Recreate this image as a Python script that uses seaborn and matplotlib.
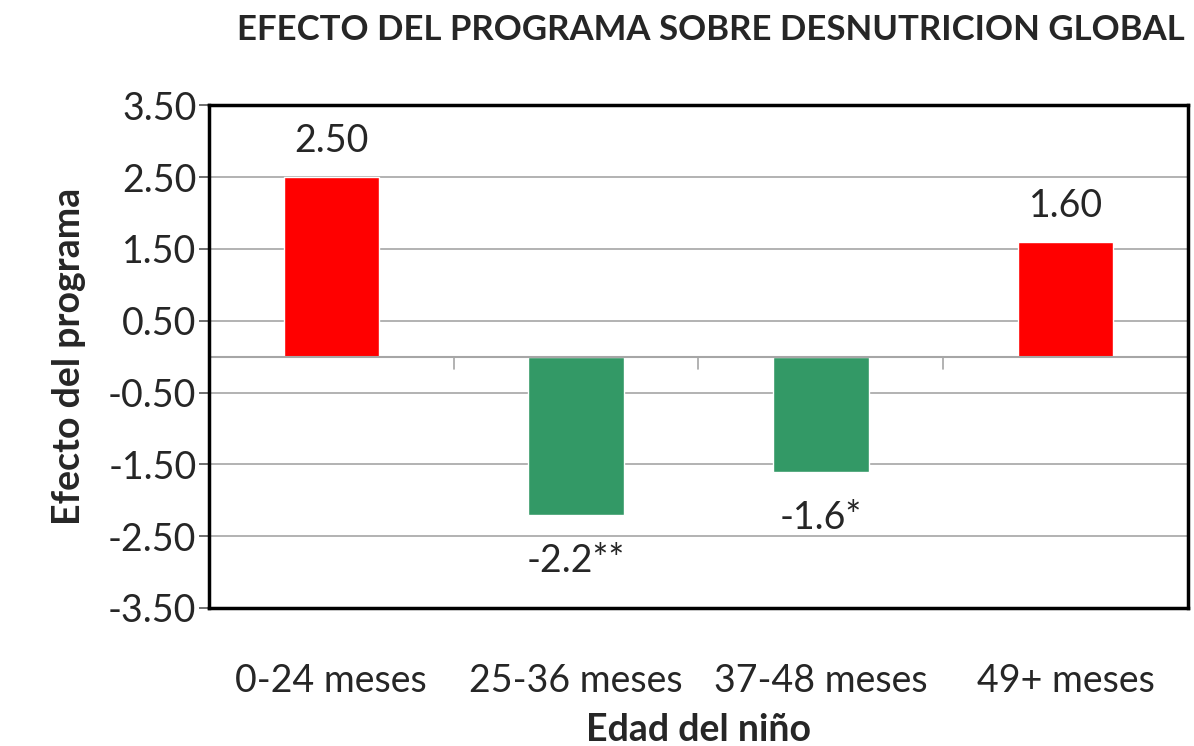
import numpy as np
import pandas as pd
import seaborn as sns
import matplotlib.pyplot as plt

# datos del grafico
categorias = ['0-24 meses', '25-36 meses', '37-48 meses', '49+ meses']
efecto = [2.5, -2.2, -1.6, 1.6]
etiquetas = ['2.50', '-2.2**', '-1.6*', '1.60']
yticks = [-3.5, -2.5, -1.5, -0.5, 0.5, 1.5, 2.5, 3.5]

sns.set_style('white')
plt.rcParams['font.family'] = ['Lato', 'DejaVu Sans']

df = pd.DataFrame({'edad': categorias, 'efecto': efecto})
colores = ['#FF0000' if v > 0 else '#339966' for v in efecto]

fig = plt.figure(figsize=(11.94, 7.46), dpi=100)
ax = fig.add_axes([0.175, 0.185, 0.82, 0.674])

sns.barplot(data=df, x='edad', y='efecto', hue='edad', palette=colores,
            legend=False, width=0.39, saturation=1, ax=ax)

ax.set_ylim(-3.5, 3.5)
ax.set_xlim(-0.5, 3.5)
ax.set_yticks(yticks)
ax.set_yticklabels([f'{t:.2f}' for t in yticks], fontsize=27)
ax.yaxis.grid(True, color='#a6a6a6', lw=1.2)
ax.set_axisbelow(True)
ax.tick_params(axis='y', left=True, length=7, width=1.2, color='#555555', pad=2)
ax.tick_params(axis='x', bottom=False, labelsize=27, pad=36)

for s in ax.spines.values():
    s.set_color('black')
    s.set_linewidth(2.5)

# linea del cero con marcas entre categorias
ax.axhline(0, color='#a6a6a6', lw=1.5, zorder=1)
for xb in [0.5, 1.5, 2.5]:
    ax.plot([xb, xb], [0, -0.17], color='#a6a6a6', lw=1.2, zorder=1)

for i, (v, lab) in enumerate(zip(efecto, etiquetas)):
    off = 0.5 if v > 0 else -0.65
    ax.text(i, v + off, lab, ha='center', va='center', fontsize=27)

ax.set_xlabel('Edad del niño', fontsize=27, fontweight='bold', labelpad=10)
ax.set_ylabel('Efecto del programa', fontsize=27, fontweight='bold', labelpad=16)
fig.text(0.595, 0.96, 'EFECTO DEL PROGRAMA SOBRE DESNUTRICION GLOBAL',
         ha='center', va='center', fontsize=25, fontweight='bold')

fig.savefig('out.png', dpi=100)
